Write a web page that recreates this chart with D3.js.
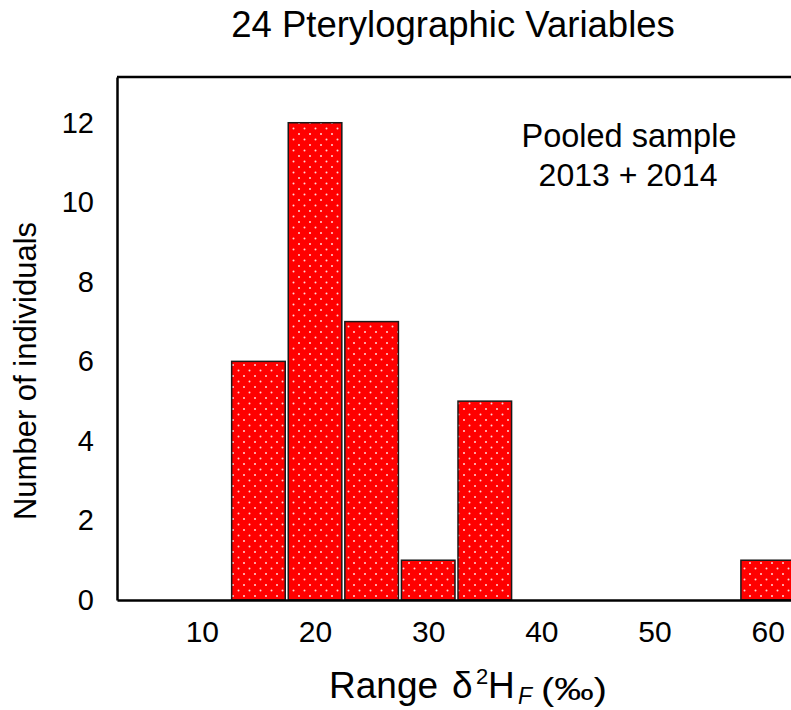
<!DOCTYPE html>
<html>
<head>
<meta charset="utf-8">
<script src="https://cdn.jsdelivr.net/npm/d3@7"></script>
<style>
  body { margin: 0; background: #fff; }
  text { font-family: "Liberation Sans", Arial, sans-serif; fill: #000; }
</style>
</head>
<body>
<div id="chart"></div>
<script>
// histogram bins (centres) and counts
var binCentres = [10, 15, 20, 25, 30, 35, 40, 45, 50, 55, 60];
var counts     = [0, 6, 12, 7, 1, 5, 0, 0, 0, 0, 1];
var xTicks = [10, 20, 30, 40, 50, 60];
var yTicks = [0, 2, 4, 6, 8, 10, 12];
var binWidth = 5;

var width = 791, height = 710;

var svg = d3.select("#chart").append("svg")
    .attr("width", width)
    .attr("height", height);

// dotted red fill
var defs = svg.append("defs");
var pat = defs.append("pattern")
    .attr("id", "dots")
    .attr("patternUnits", "userSpaceOnUse")
    .attr("width", 11)
    .attr("height", 11);
pat.append("rect").attr("width", 11).attr("height", 11).attr("fill", "#ff0000");
pat.append("circle").attr("cx", 2).attr("cy", 2).attr("r", 1).attr("fill", "#ffd6d6");
pat.append("circle").attr("cx", 7.5).attr("cy", 7.5).attr("r", 1).attr("fill", "#ffd6d6");

var x = d3.scaleLinear().domain([2.5, 62.5]).range([117, 796]);
var y = d3.scaleLinear().domain([0, 13.15]).range([600, 77]);

// bars
svg.selectAll("rect.bar")
    .data(binCentres.map(function(c, i) { return {c: c, n: counts[i]}; })
        .filter(function(d) { return d.n > 0; }))
    .enter()
    .append("rect")
        .attr("class", "bar")
        .attr("x", function(d) { return x(d.c - binWidth / 2) + 1.5; })
        .attr("width", function(d) { return x(d.c + binWidth / 2) - x(d.c - binWidth / 2) - 3; })
        .attr("y", function(d) { return y(d.n); })
        .attr("height", function(d) { return y(0) - y(d.n); })
        .attr("fill", "url(#dots)")
        .attr("stroke", "#1a1a1a")
        .attr("stroke-width", 1.5);

// axes
var yAxis = svg.append("g")
    .attr("transform", "translate(" + x.range()[0] + ",0)")
    .call(d3.axisLeft(y).tickValues(yTicks).tickSize(0).tickPadding(23));
var xAxis = svg.append("g")
    .attr("transform", "translate(0," + y(0) + ")")
    .call(d3.axisBottom(x).tickValues(xTicks).tickSize(0).tickPadding(21));

[yAxis, xAxis].forEach(function(g) {
    g.select(".domain").attr("stroke", "#000").attr("stroke-width", 2.5);
    g.selectAll("text").style("font-family", "Liberation Sans, Arial, sans-serif");
});
yAxis.selectAll("text").style("font-size", "29px");
xAxis.selectAll("text").style("font-size", "30px");

// top frame line
svg.append("line")
    .attr("x1", x.range()[0]).attr("x2", x.range()[1])
    .attr("y1", y(y.domain()[1])).attr("y2", y(y.domain()[1]))
    .attr("stroke", "#000").attr("stroke-width", 2.5);

// title
svg.append("text")
    .attr("x", 453).attr("y", 37)
    .attr("text-anchor", "middle")
    .style("font-size", "36.5px")
    .text("24 Pterylographic Variables");

// annotation
svg.append("text")
    .attr("x", 629).attr("y", 147)
    .attr("text-anchor", "middle")
    .style("font-size", "32.5px")
    .text("Pooled sample");
svg.append("text")
    .attr("x", 628).attr("y", 186)
    .attr("text-anchor", "middle")
    .style("font-size", "32px")
    .text("2013 + 2014");

// y label
svg.append("text")
    .attr("transform", "translate(36,371) rotate(-90)")
    .attr("text-anchor", "middle")
    .style("font-size", "31px")
    .text("Number of individuals");

// x label
var xl = svg.append("text")
    .attr("y", 698)
    .style("font-size", "37px");
xl.append("tspan").attr("x", 329).text("Range");
xl.append("tspan").attr("x", 452).text("δ");
xl.append("tspan").attr("x", 476).attr("y", 684).style("font-size", "22px").text("2");
xl.append("tspan").attr("x", 488).attr("y", 698).text("H");
xl.append("tspan").attr("x", 518).attr("y", 704).style("font-size", "23px").style("font-style", "italic").text("F");
xl.append("tspan").attr("x", 541).attr("y", 700).style("font-size", "31px")
    .attr("textLength", 66).attr("lengthAdjust", "spacingAndGlyphs").text("(‰)");
</script>
</body>
</html>
